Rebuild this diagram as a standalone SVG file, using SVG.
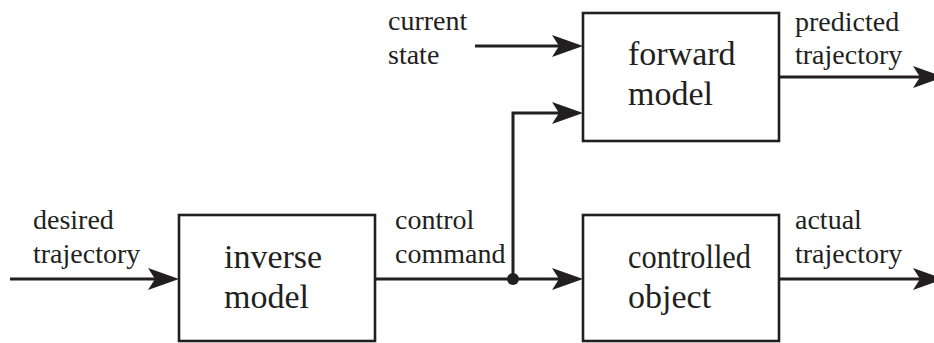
<svg xmlns="http://www.w3.org/2000/svg" width="934" height="343" viewBox="0 0 934 343">
<style>
.box{fill:#fff;stroke:#231f20;stroke-width:2.6}
.lbl{font-family:"Liberation Serif","Times New Roman",serif;font-size:34px;fill:#231f20}
.sm{font-family:"Liberation Serif","Times New Roman",serif;font-size:28px;fill:#231f20}
.wire{fill:none;stroke:#231f20;stroke-width:3}
</style>
<defs>
<marker id="ah" markerUnits="userSpaceOnUse" viewBox="-32 -12 33 24" refX="-9" refY="0" markerWidth="33" markerHeight="24" orient="auto">
<path d="M0,0 L-31,-11 L-24,0 L-31,11 Z" fill="#231f20"/>
</marker>
</defs>
<rect width="934" height="343" fill="#fff"/>
<g id="connectors">
<path class="wire" d="M10,279 H170" marker-end="url(#ah)"/>
<path class="wire" d="M375,279 H574" marker-end="url(#ah)"/>
<path class="wire" d="M513,279 V113 H574" marker-end="url(#ah)"/>
<path class="wire" d="M475,46 H574" marker-end="url(#ah)"/>
<path class="wire" d="M779,77 H935" marker-end="url(#ah)"/>
<path class="wire" d="M779,279 H935" marker-end="url(#ah)"/>
<circle cx="513" cy="279" r="6" fill="#231f20"/>
</g>
<g id="inverse">
<rect class="box" x="179" y="215" width="196" height="126"/>
<text class="lbl" x="224" y="268">inverse</text>
<text class="lbl" x="224" y="308">model</text>
</g>
<g id="forward">
<rect class="box" x="583" y="13" width="196" height="128"/>
<text class="lbl" x="628" y="65">forward</text>
<text class="lbl" x="628" y="105">model</text>
</g>
<g id="controlled">
<rect class="box" x="583" y="215" width="196" height="126"/>
<text class="lbl" x="628" y="268" textLength="123" lengthAdjust="spacingAndGlyphs">controlled</text>
<text class="lbl" x="628" y="308">object</text>
</g>
<g id="labels">
<text class="sm" x="33" y="229">desired</text>
<text class="sm" x="33" y="263">trajectory</text>
<text class="sm" x="395" y="229">control</text>
<text class="sm" x="395" y="263">command</text>
<text class="sm" x="388" y="30">current</text>
<text class="sm" x="388" y="64">state</text>
<text class="sm" x="795" y="31">predicted</text>
<text class="sm" x="795" y="64">trajectory</text>
<text class="sm" x="795" y="229">actual</text>
<text class="sm" x="795" y="263">trajectory</text>
</g>
</svg>
